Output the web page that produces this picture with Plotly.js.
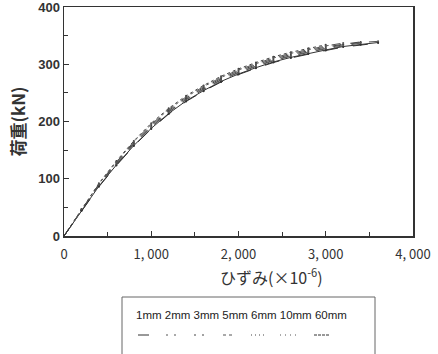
<!DOCTYPE html>
<html><head><meta charset="utf-8">
<script src="https://cdn.plot.ly/plotly-3.0.1.min.js"></script>
<style>body{margin:0;background:#fff}#c{width:438px;height:354px}</style>
</head><body><div id="c"></div>
<script>
const strain = [0,200,400,600,800,1000,1200,1400,1600,1800,2000,2200,2400,2600,2800,3000,3200,3400,3600];
const seriesNames = ['1mm','2mm','3mm','5mm','6mm','10mm','60mm'];
const load1mm  = [0,44,87,124,158,188,214,236,254,270,283,294,304,312,319,325,331,335,338];
const load2mm  = [0,45,89,126,161,191,217,239,257,273,286,297,307,315,322,328,334,338,340];
const load3mm  = [0,46,90,128,163,193,219,241,259,275,288,299,309,317,324,330,335,339];
const load5mm  = [0,45,88,125,160,190,216,238,256,272,285,296,306,314,321,327,332,337];
const load6mm  = [0,47,92,131,166,197,223,245,263,279,292,303,313,321,328,334];
const load10mm = [0,46,91,129,165,195,221,243,261,277,290,301,311,319,326,332,337];
const load60mm = [0,44,86,123,157,187,213,235,253,269,282,293,303,311,318,324,330,334,337];
const xTickVals = [0,1000,2000,3000,4000];
const xTickText = ['0','1, 000','2, 000','3, 000','4, 000'];
const yTickVals = [0,100,200,300,400];

const loads = [load1mm,load2mm,load3mm,load5mm,load6mm,load10mm,load60mm];
const dashes = ['solid','dash','dash','dash','dot','dashdot','longdash'];
const colors = ['#333','#555','#444','#555','#444','#555','#333'];

const traces = loads.map((ld,i)=>({
  x: strain.slice(0, ld.length), y: ld, name: seriesNames[i],
  type:'scatter', mode:'lines+markers',
  line:{color:colors[i], width:1, dash:dashes[i]},
  marker:{size:2, color:colors[i]},
  showlegend:false, hoverinfo:'skip'
}));

// plot-area pixel geometry helpers (for the hand-made legend)
const L = 64, R = 413, T = 7, B = 236;
const px = v => (v - L) / (R - L);
const py = v => (B - v) / (B - T);

const legFontSize = 11.5;
const annotations = [
  {xref:'paper', yref:'paper', x:px(241.5), y:py(323), text:seriesNames.join(' '), showarrow:false,
   font:{family:'Liberation Sans, Arial', size:legFontSize, color:'#222'}},
  {xref:'paper', yref:'paper', x:px(271), y:py(291), text:'ひずみ(×10<sup>-6</sup>)', showarrow:false,
   font:{family:'Noto Sans CJK JP', size:16, color:'#333'}}
];
// legend samples: start under each label
const sampleStart = [138,166,194,223,251,280,314];
const sampleLen = [11,11,11,12,16,18,15];
const sampleDash = ['solid','2px,6px','2px,6px','3px,3px','1px,3px','1px,4px','3px,1px'];
const shapes = [{type:'rect', xref:'paper', yref:'paper', x0:px(122), x1:px(375), y0:py(297), y1:py(360),
  line:{color:'#666', width:1}, fillcolor:'rgba(0,0,0,0)'}];
seriesNames.forEach((n,i)=>{
  shapes.push({type:'line', xref:'paper', yref:'paper', x0:px(sampleStart[i]), x1:px(sampleStart[i]+sampleLen[i]),
    y0:py(335), y1:py(335), line:{color:colors[i], width:1, dash:sampleDash[i]}});
});

const layout = {
  width:438, height:354,
  margin:{l:L, r:438-R, t:T, b:354-B},
  paper_bgcolor:'#fff', plot_bgcolor:'#fff',
  xaxis:{range:[0,4000], tickvals:xTickVals, ticktext:xTickText, ticks:'inside', ticklen:5,
    tickcolor:'#333', showline:true, linecolor:'#333', linewidth:1.5, mirror:true,
    showgrid:false, zeroline:false, ticklabeloverflow:'allow', ticklabelstandoff:6,
    minor:{dtick:500, tick0:0, ticks:'inside', ticklen:4, tickcolor:'#333', showgrid:false},
    tickfont:{family:'Noto Sans CJK JP', size:13, color:'#333'}},
  yaxis:{range:[0,400], tickvals:yTickVals, ticks:'inside', ticklen:5,
    tickcolor:'#333', showline:true, linecolor:'#333', linewidth:1.5, mirror:true,
    showgrid:false, zeroline:false, ticklabeloverflow:'allow',
    minor:{dtick:50, tick0:0, ticks:'inside', ticklen:4, tickcolor:'#333', showgrid:false},
    tickfont:{family:'Liberation Sans, Arial', size:13, color:'#333', weight:'bold'},
    title:{text:'<b>荷重(kN)</b>', standoff:8,
      font:{family:'Noto Sans CJK JP', size:17, color:'#333'}}},
  annotations: annotations,
  shapes: shapes
};
Plotly.newPlot('c', traces, layout, {staticPlot:true, displayModeBar:false});
</script></body></html>
